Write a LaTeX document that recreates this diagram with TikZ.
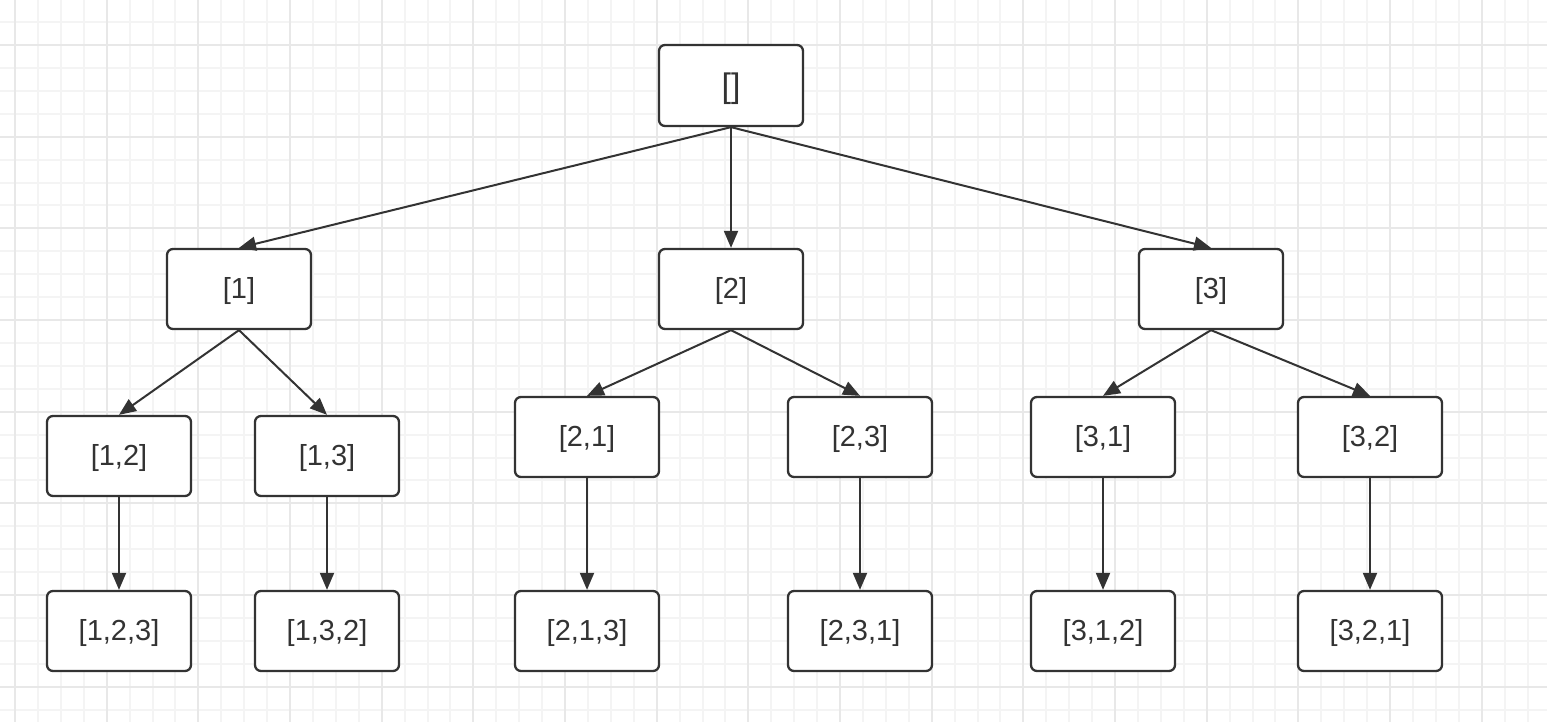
\documentclass[tikz,border=0pt]{standalone}
\usepackage{fontspec}
\setmainfont{Liberation Sans}
\usetikzlibrary{arrows.meta}
\definecolor{ink}{HTML}{333333}
\definecolor{gridminor}{HTML}{F4F4F4}
\definecolor{gridmajor}{HTML}{E8E8E8}
% label set on a zero-height box, baseline lowered below the node centre
\newcommand{\boxtext}[2]{\smash{\raisebox{-#1pt}{#2}}}
\begin{document}
\begin{tikzpicture}[x=1pt,y=-1pt,
  box/.style={draw=ink,line width=2.3pt,rounded corners=6pt,fill=white,
    minimum width=144pt,minimum height=80pt,inner sep=0pt,
    text=ink,font=\fontsize{29}{33}\selectfont},
  edge/.style={draw=ink,line width=2pt,-{Stealth[length=17pt,width=14pt,inset=0pt]}},
  minorline/.style={draw=gridminor,line width=1.3pt},
  majorline/.style={draw=gridmajor,line width=1.6pt}]
\useasboundingbox (0,0) rectangle (1547,722);
\fill[white] (0,0) rectangle (1547,722);
% background grid
\foreach \i in {-1,...,67} {
  \draw[minorline] ({round(15+\i*22.917)},0) -- ({round(15+\i*22.917)},722);
}
\foreach \j in {-2,...,30} {
  \draw[minorline] (0,{round(45+\j*22.917)}) -- (1547,{round(45+\j*22.917)});
}
\foreach \i in {0,...,16} {
  \draw[majorline] ({round(15+\i*91.667)},0) -- ({round(15+\i*91.667)},722);
}
\foreach \j in {0,...,7} {
  \draw[majorline] (0,{round(45+\j*91.667)}) -- (1547,{round(45+\j*91.667)});
}
% tree nodes
\node[box,minimum height=81pt,font=\fontsize{34}{38}\selectfont] (r) at (731,85.5) {\boxtext{12.3}{[]}};
\node[box] (a) at (239,289) {\boxtext{9.5}{[1]}};
\node[box] (b) at (731,289) {\boxtext{9.5}{[2]}};
\node[box] (c) at (1211,289) {\boxtext{9.5}{[3]}};
\node[box] (a1) at (119,456) {\boxtext{9.5}{[1,2]}};
\node[box] (a2) at (327,456) {\boxtext{9.5}{[1,3]}};
\node[box] (b1) at (587,437) {\boxtext{9.5}{[2,1]}};
\node[box] (b2) at (860,437) {\boxtext{9.5}{[2,3]}};
\node[box] (c1) at (1103,437) {\boxtext{9.5}{[3,1]}};
\node[box] (c2) at (1370,437) {\boxtext{9.5}{[3,2]}};
\node[box] (a11) at (119,631) {\boxtext{9.5}{[1,2,3]}};
\node[box] (a21) at (327,631) {\boxtext{9.5}{[1,3,2]}};
\node[box] (b11) at (587,631) {\boxtext{9.5}{[2,1,3]}};
\node[box] (b21) at (860,631) {\boxtext{9.5}{[2,3,1]}};
\node[box] (c11) at (1103,631) {\boxtext{9.5}{[3,1,2]}};
\node[box] (c21) at (1370,631) {\boxtext{9.5}{[3,2,1]}};
% parent-to-child connectors
\foreach \p/\q in {r/a,r/b,r/c,a/a1,a/a2,b/b1,b/b2,c/c1,c/c2,a1/a11,a2/a21,b1/b11,b2/b21,c1/c11,c2/c21} {
  \draw[edge] (\p.south) -- (\q.north);
}
\end{tikzpicture}
\end{document}
